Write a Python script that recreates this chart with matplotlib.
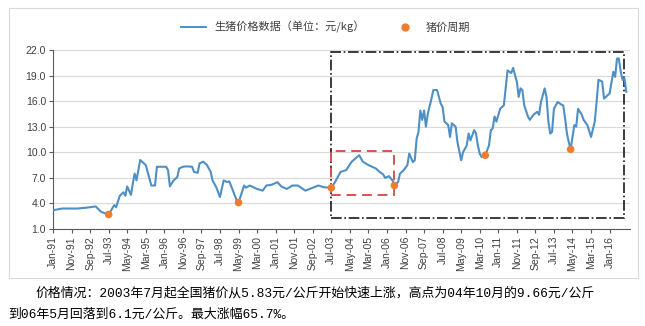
import matplotlib
matplotlib.use("Agg")
import matplotlib.pyplot as plt
from matplotlib.patches import Rectangle
from matplotlib.lines import Line2D
import pandas as pd

plt.rcParams['font.family'] = ['Noto Sans CJK SC', 'DejaVu Sans']

# 生猪价格 (元/kg)
months = [
    '1991-01', '1991-06', '1992-02', '1992-07', '1992-12', '1993-03', '1993-07', '1993-10', '1993-11',
    '1994-01', '1994-03', '1994-04', '1994-05', '1994-07', '1994-08', '1994-09', '1994-10', '1994-12',
    '1995-03', '1995-04', '1995-06', '1995-08', '1995-09', '1995-11', '1996-02', '1996-03', '1996-04',
    '1996-06', '1996-08', '1996-09', '1996-11', '1997-01', '1997-04', '1997-05', '1997-07', '1997-08',
    '1997-10', '1997-12', '1998-02', '1998-03', '1998-05', '1998-07', '1998-09', '1998-11', '1998-12',
    '1999-02', '1999-04', '1999-05', '1999-08', '1999-09', '1999-11', '2000-03', '2000-06', '2000-08',
    '2000-11', '2001-02', '2001-04', '2001-07', '2001-10', '2002-01', '2002-05', '2002-09', '2002-12',
    '2003-03', '2003-07', '2003-09', '2003-12', '2004-03', '2004-06', '2004-10', '2004-12', '2005-03',
    '2005-07', '2005-09', '2005-11', '2005-12', '2006-02', '2006-04', '2006-05', '2006-07', '2006-08',
    '2006-10', '2006-12', '2007-01', '2007-03', '2007-04', '2007-05', '2007-06', '2007-07', '2007-08',
    '2007-09', '2007-10', '2007-11', '2008-01', '2008-02', '2008-04', '2008-06', '2008-07', '2008-08',
    '2008-10', '2008-11', '2008-12', '2009-02', '2009-03', '2009-05', '2009-06', '2009-08', '2009-09',
    '2009-10', '2009-12', '2010-01', '2010-02', '2010-03', '2010-04', '2010-06', '2010-08', '2010-09',
    '2010-10', '2010-11', '2010-12', '2011-02', '2011-04', '2011-05', '2011-06', '2011-08', '2011-09',
    '2011-10', '2011-11', '2011-12', '2012-01', '2012-02', '2012-03', '2012-05', '2012-06', '2012-08',
    '2012-10', '2012-11', '2012-12', '2013-02', '2013-03', '2013-04', '2013-05', '2013-06', '2013-07',
    '2013-09', '2013-11', '2013-12', '2014-01', '2014-02', '2014-03', '2014-04', '2014-06', '2014-07',
    '2014-08', '2014-10', '2014-11', '2015-01', '2015-03', '2015-05', '2015-06', '2015-07', '2015-09',
    '2015-10', '2015-12', '2016-01', '2016-03', '2016-04', '2016-05', '2016-06', '2016-07', '2016-08',
    '2016-09', '2016-10',
]
prices = [
    3.2, 3.4, 3.4, 3.5, 3.65, 3.0, 2.7, 3.8, 3.55,
    4.9, 5.3, 4.9, 6.0, 5.0, 6.3, 7.5, 6.7, 9.1,
    8.5, 7.7, 6.1, 6.1, 8.3, 8.3, 8.3, 7.9, 6.0,
    6.7, 7.1, 8.1, 8.3, 8.35, 8.3, 7.7, 7.6, 8.7,
    8.9, 8.5, 7.7, 6.7, 5.9, 4.75, 6.7, 6.5, 6.6,
    5.5, 4.35, 4.1, 6.1, 5.85, 6.1, 5.7, 5.5, 6.1,
    6.2, 6.5, 6.0, 5.7, 6.1, 6.1, 5.5, 5.85, 6.1,
    5.9, 5.83, 6.5, 7.7, 7.9, 8.9, 9.66, 8.9, 8.5,
    8.1, 7.7, 7.4, 7.0, 7.2, 6.7, 6.1, 6.5, 7.5,
    7.9, 8.5, 9.85, 8.85, 9.06, 11.6, 12.4, 14.9, 13.8,
    14.9, 13.0, 14.5, 16.3, 17.3, 17.3, 15.7, 15.3, 13.6,
    13.2, 11.8, 13.4, 13.0, 11.2, 9.06, 10.0, 10.8, 12.2,
    11.4, 12.6, 12.2, 10.8, 9.85, 9.45, 9.65, 10.8, 12.6,
    12.8, 14.2, 13.6, 15.1, 15.5, 17.5, 19.6, 19.3, 19.9,
    19.1, 18.3, 16.5, 17.5, 17.3, 15.5, 14.2, 13.8, 14.4,
    14.75, 14.4, 15.9, 17.5, 16.5, 13.6, 12.2, 12.4, 15.1,
    15.9, 15.6, 15.5, 14.0, 12.2, 11.2, 10.35, 13.2, 13.0,
    15.1, 14.4, 13.8, 13.2, 11.8, 13.6, 15.9, 18.5, 18.3,
    16.3, 16.7, 16.9, 19.45, 18.85, 21.0, 21.0, 19.45, 18.5,
    18.7, 17.1,
]

# 猪价周期低点
cycle_months = ['1993-07', '1999-05', '2003-07', '2006-05', '2010-06', '2014-04']

# 标注框 (起止月份, 价格上下限)
black_box = ('2003-07', '2016-09', 2.3, 21.8)
red_box = ('2003-07', '2006-05', 5.0, 10.15)

yticks = [1.0, 4.0, 7.0, 10.0, 13.0, 16.0, 19.0, 22.0]

start = pd.Period('1991-01', freq='M')


def month_idx(s):
    return (pd.Period(s, freq='M') - start).n


x = [month_idx(m) for m in months]
price_map = dict(zip(months, prices))
cx = [month_idx(m) for m in cycle_months]
cy = [price_map[m] for m in cycle_months]

tick_pos = list(range(0, 301, 10))
tick_lab = [(start + t).strftime('%b-%y') for t in tick_pos]

fig = plt.figure(figsize=(6.45, 3.26), dpi=100)
fig.patch.set_facecolor('white')
fig.patches.append(Rectangle((9 / 645, 1 - 278 / 326), 629 / 645, 270 / 326,
                             transform=fig.transFigure, fill=False,
                             edgecolor='#d9d9d9', lw=0.8))

ax = fig.add_axes([53 / 645, 1 - 229 / 326, 577 / 645, 179 / 326])
line_c = '#4f8fc4'
ax.plot(x, prices, color=line_c, lw=1.5, zorder=3)
ax.scatter(cx, cy, s=30, color='#ed7d31', zorder=4, edgecolors='none')

bx0, bx1 = month_idx(black_box[0]), month_idx(black_box[1])
ax.add_patch(Rectangle((bx0, black_box[2]), bx1 - bx0, black_box[3] - black_box[2],
                       fill=False, edgecolor='#1a1a1a', lw=1.2, linestyle='-.', zorder=2))
rx0, rx1 = month_idx(red_box[0]), month_idx(red_box[1])
ax.add_patch(Rectangle((rx0, red_box[2]), rx1 - rx0, red_box[3] - red_box[2],
                       fill=False, edgecolor='#d9534f', lw=1.4, linestyle=(0, (5, 3)), zorder=2))

ax.set_xlim(0, 311)
ax.set_ylim(1, 22)
ax.set_yticks(yticks)
ax.set_yticklabels([f'{v:.1f}' for v in yticks], fontsize=7.5, color='#404040',
                   family=['Liberation Sans', 'DejaVu Sans'])
ax.set_xticks(tick_pos)
ax.set_xticklabels(tick_lab, rotation=90, fontsize=7.5, color='#404040',
                   family=['Liberation Sans', 'DejaVu Sans'])
ax.tick_params(axis='both', length=3, width=0.8, color='#595959', pad=2)
ax.grid(axis='y', color='#d9d9d9', lw=0.8)
ax.set_axisbelow(True)
for s in ['top', 'right']:
    ax.spines[s].set_visible(False)
for s in ['left', 'bottom']:
    ax.spines[s].set_color('#595959')
    ax.spines[s].set_linewidth(0.8)

handles = [Line2D([], [], color=line_c, lw=1.4),
           Line2D([], [], color='#ed7d31', marker='o', ls='none', markersize=5)]
fig.legend(handles, ['生猪价格数据（单位：元/kg）', '猪价周期'], loc='center',
           bbox_to_anchor=(0.505, 1 - 27 / 326), ncol=2, frameon=False, fontsize=8,
           handlelength=2.2, columnspacing=2.5, labelcolor='#404040')

# 说明文字：数字用等宽字体，汉字回落到 Noto Sans CJK
note_fam = ['Liberation Mono', 'Noto Sans CJK SC', 'DejaVu Sans']
fig.text(35 / 645, 1 - 293 / 326,
         '价格情况：2003年7月起全国猪价从5.83元/公斤开始快速上涨，高点为04年10月的9.66元/公斤',
         fontsize=9.3, color='black', va='center', family=note_fam)
fig.text(8 / 645, 1 - 315 / 326, '到06年5月回落到6.1元/公斤。最大涨幅65.7%。',
         fontsize=9.3, color='black', va='center', family=note_fam)

fig.savefig('out.png', dpi=100)
